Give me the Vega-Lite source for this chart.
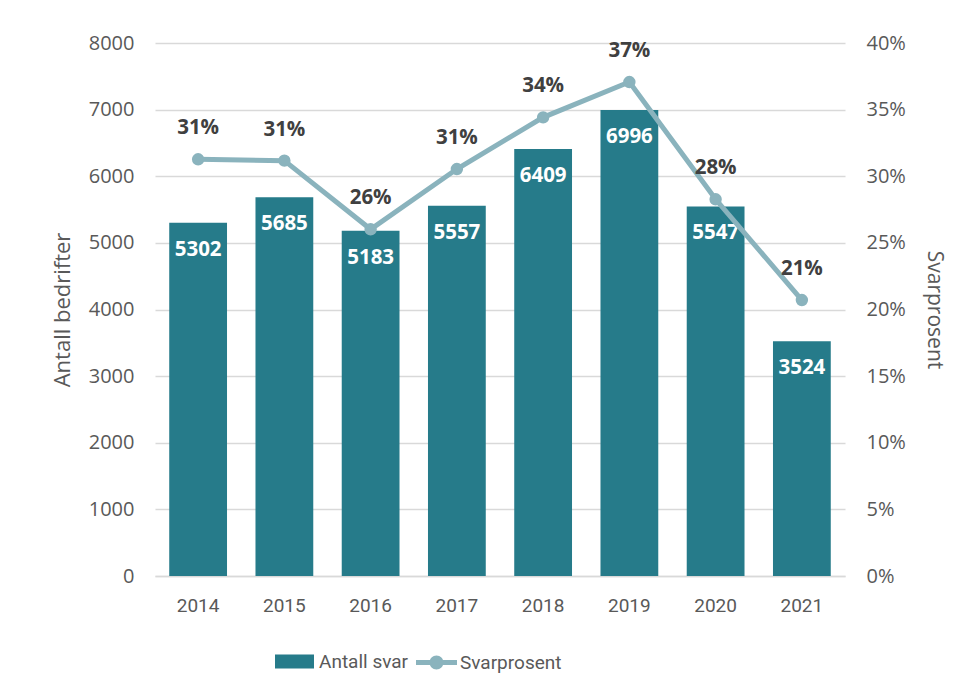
{
  "$schema": "https://vega.github.io/schema/vega-lite/v6.json",
  "width": 690,
  "height": 533,
  "autosize": {"type": "none"},
  "padding": {"left": 155, "top": 43, "right": 121, "bottom": 115},
  "background": "white",
  "data": {
    "values": [
      {"year": "2014", "svar": 5302, "pct": 0.3127},
      {"year": "2015", "svar": 5685, "pct": 0.3117},
      {"year": "2016", "svar": 5183, "pct": 0.2602},
      {"year": "2017", "svar": 5557, "pct": 0.3054},
      {"year": "2018", "svar": 6409, "pct": 0.3442},
      {"year": "2019", "svar": 6996, "pct": 0.3707},
      {"year": "2020", "svar": 5547, "pct": 0.2827},
      {"year": "2021", "svar": 3524, "pct": 0.2071}
    ]
  },
  "encoding": {
    "x": {
      "field": "year",
      "type": "ordinal",
      "scale": {"paddingInner": 0.33, "paddingOuter": 0.165},
      "axis": {
        "title": null,
        "labelAngle": 0,
        "labelFont": "Roboto",
        "labelFontSize": 19,
        "labelColor": "#595959",
        "labelPadding": 20,
        "ticks": false,
        "domainColor": "#d9d9d9",
        "domainWidth": 1.5,
        "grid": false
      }
    }
  },
  "layer": [
    {
      "encoding": {
        "y": {
          "field": "svar",
          "type": "quantitative",
          "scale": {"domain": [0, 8000], "nice": false},
          "axis": {
            "title": "Antall bedrifter",
            "titleFont": "Open Sans",
            "titleFontSize": 22,
            "titleFontWeight": "normal",
            "titleColor": "#595959",
            "titlePadding": 14,
            "values": [0, 1000, 2000, 3000, 4000, 5000, 6000, 7000, 8000],
            "format": "d",
            "labelFont": "Open Sans",
            "labelFontSize": 20,
            "labelColor": "#595959",
            "labelPadding": 21,
            "ticks": false,
            "domain": false,
            "grid": true,
            "gridColor": "#d9d9d9",
            "gridWidth": 1.3
          }
        }
      },
      "layer": [
        {
          "mark": {"type": "bar"},
          "encoding": {
            "fill": {
              "datum": "Antall svar",
              "scale": {"range": ["#267B8A"]},
              "legend": {
                "orient": "none",
                "legendX": 120,
                "legendY": 599,
                "title": null,
                "symbolType": "M-1,-0.36H1V0.36H-1Z",
                "symbolSize": 1521,
                "symbolStrokeWidth": 0,
                "labelFont": "Roboto",
                "labelFontSize": 19,
                "labelColor": "#595959",
                "labelOffset": 5
              }
            }
          }
        },
        {
          "mark": {"type": "text", "dy": 27, "baseline": "middle", "font": "Open Sans", "fontWeight": "bold", "fontSize": 20.5, "color": "white"},
          "encoding": {"text": {"field": "svar", "type": "quantitative", "format": "d"}}
        }
      ]
    },
    {
      "encoding": {
        "y": {
          "field": "pct",
          "type": "quantitative",
          "scale": {"domain": [0, 0.4], "nice": false},
          "axis": {
            "orient": "right",
            "title": "Svarprosent",
            "titleFont": "Open Sans",
            "titleFontSize": 21,
            "titleFontWeight": "normal",
            "titleColor": "#595959",
            "titlePadding": 18,
            "values": [0, 0.05, 0.1, 0.15, 0.2, 0.25, 0.3, 0.35, 0.4],
            "format": ".0%",
            "labelFont": "Open Sans",
            "labelFontSize": 20,
            "labelColor": "#595959",
            "labelPadding": 21,
            "ticks": false,
            "domain": false,
            "grid": false
          }
        }
      },
      "layer": [
        {
          "mark": {"type": "line", "strokeWidth": 5},
          "encoding": {
            "stroke": {
              "datum": "Svarprosent",
              "scale": {"range": ["#8AB3BD"]},
              "legend": {
                "orient": "none",
                "legendX": 261,
                "legendY": 599,
                "title": null,
                "symbolType": "M-1,-0.12H1V0.12H-1Z M0.34,0A0.34,0.34,0,1,1,-0.34,0A0.34,0.34,0,1,1,0.34,0Z",
                "symbolSize": 1681,
                "symbolFillColor": "#8AB3BD",
                "symbolStrokeWidth": 0,
                "labelFont": "Roboto",
                "labelFontSize": 19,
                "labelColor": "#595959",
                "labelOffset": 3
              }
            }
          }
        },
        {
          "mark": {"type": "point", "filled": true, "size": 154, "color": "#8AB3BD", "opacity": 1}
        },
        {
          "mark": {"type": "text", "dy": -31, "baseline": "middle", "font": "Open Sans", "fontWeight": "bold", "fontSize": 20.5, "color": "#404040"},
          "encoding": {"text": {"field": "pct", "type": "quantitative", "format": ".0%"}}
        }
      ]
    }
  ],
  "resolve": {"scale": {"y": "independent"}},
  "config": {"view": {"stroke": null}}
}
